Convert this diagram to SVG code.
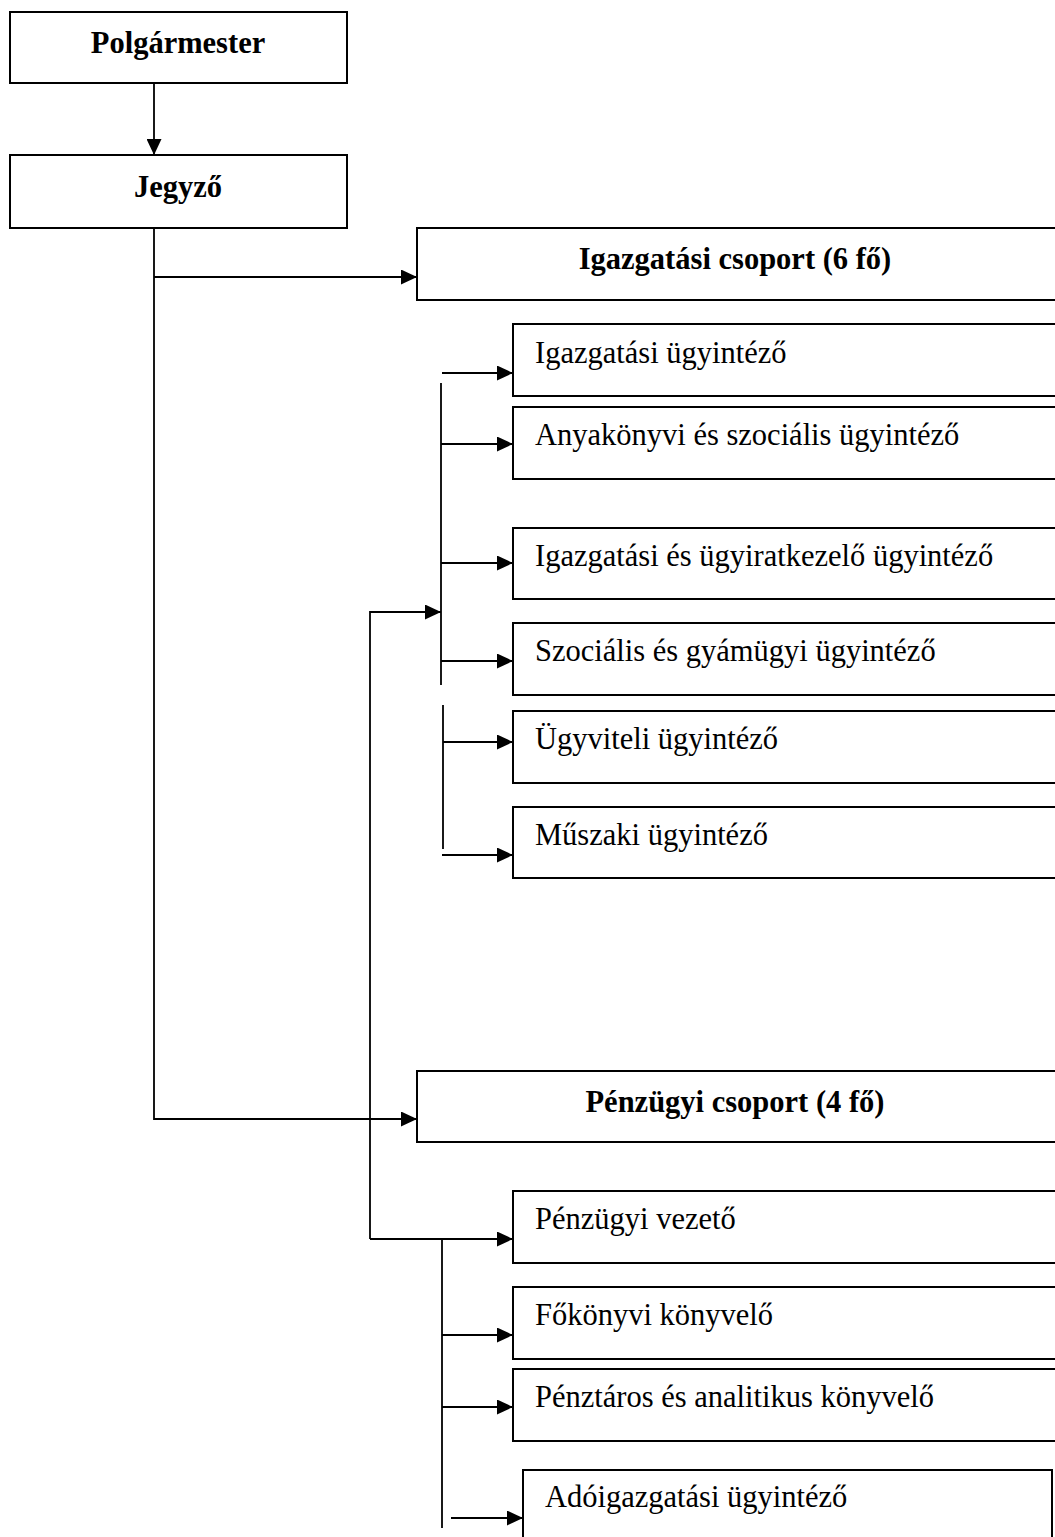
<svg xmlns="http://www.w3.org/2000/svg" width="1055" height="1537" viewBox="0 0 1055 1537">
<style>
.box{fill:#fff;stroke:#000;stroke-width:2}
.ln{fill:none;stroke:#000;stroke-width:1.8}
.b{font-family:"Liberation Serif","Times New Roman",serif;font-weight:bold;font-size:30.5px;fill:#000}
.t{font-family:"Liberation Serif","Times New Roman",serif;font-size:30.5px;fill:#000}
</style>
<defs>
<marker id="ah" viewBox="0 0 16 15" refX="16" refY="7.5" markerWidth="16" markerHeight="15" markerUnits="userSpaceOnUse" orient="auto">
<path d="M0,0 L16,7.5 L0,15 z" fill="#000"/>
</marker>
</defs>
<rect width="1055" height="1537" fill="#fff"/>
<g id="connectors">
<line class="ln" x1="154" y1="83" x2="154" y2="155" marker-end="url(#ah)"/>
<polyline class="ln" points="154,228 154,1119 417,1119" marker-end="url(#ah)"/>
<line class="ln" x1="154" y1="277" x2="417" y2="277" marker-end="url(#ah)"/>
<polyline class="ln" points="370,1239 370,612 441,612" marker-end="url(#ah)"/>
<line class="ln" x1="370" y1="1239" x2="513" y2="1239" marker-end="url(#ah)"/>
<line class="ln" x1="441" y1="383" x2="441" y2="685"/>
<line class="ln" x1="442" y1="373" x2="513" y2="373" marker-end="url(#ah)"/>
<line class="ln" x1="441" y1="444" x2="513" y2="444" marker-end="url(#ah)"/>
<line class="ln" x1="441" y1="563" x2="513" y2="563" marker-end="url(#ah)"/>
<line class="ln" x1="441" y1="661" x2="513" y2="661" marker-end="url(#ah)"/>
<line class="ln" x1="443" y1="705" x2="443" y2="849"/>
<line class="ln" x1="443" y1="742" x2="513" y2="742" marker-end="url(#ah)"/>
<line class="ln" x1="442" y1="855" x2="513" y2="855" marker-end="url(#ah)"/>
<line class="ln" x1="442" y1="1239" x2="442" y2="1528"/>
<line class="ln" x1="442" y1="1335" x2="513" y2="1335" marker-end="url(#ah)"/>
<line class="ln" x1="442" y1="1407" x2="513" y2="1407" marker-end="url(#ah)"/>
<line class="ln" x1="451" y1="1518" x2="523" y2="1518" marker-end="url(#ah)"/>
</g>
<g id="polgarmester">
<rect class="box" x="10" y="12" width="337" height="71"/>
<text class="b" x="178" y="53" text-anchor="middle">Polgármester</text>
</g>
<g id="jegyzo">
<rect class="box" x="10" y="155" width="337" height="73"/>
<text class="b" x="178" y="197" text-anchor="middle">Jegyző</text>
</g>
<g id="igazgatasi-csoport">
<rect class="box" x="417" y="228" width="660" height="72"/>
<text class="b" x="735" y="269" text-anchor="middle">Igazgatási csoport (6 fő)</text>
</g>
<g id="igazgatasi-ugyintezo">
<rect class="box" x="513" y="324" width="560" height="72"/>
<text class="t" x="535" y="363">Igazgatási ügyintéző</text>
</g>
<g id="anyakonyvi">
<rect class="box" x="513" y="407" width="560" height="72"/>
<text class="t" x="535" y="445">Anyakönyvi és szociális ügyintéző</text>
</g>
<g id="ugyiratkezelo">
<rect class="box" x="513" y="528" width="560" height="71"/>
<text class="t" x="535" y="566">Igazgatási és ügyiratkezelő ügyintéző</text>
</g>
<g id="szocialis">
<rect class="box" x="513" y="623" width="560" height="72"/>
<text class="t" x="535" y="661">Szociális és gyámügyi ügyintéző</text>
</g>
<g id="ugyviteli">
<rect class="box" x="513" y="711" width="560" height="72"/>
<text class="t" x="535" y="749">Ügyviteli ügyintéző</text>
</g>
<g id="muszaki">
<rect class="box" x="513" y="807" width="560" height="71"/>
<text class="t" x="535" y="845">Műszaki ügyintéző</text>
</g>
<g id="penzugyi-csoport">
<rect class="box" x="417" y="1071" width="660" height="71"/>
<text class="b" x="735" y="1112" text-anchor="middle">Pénzügyi csoport (4 fő)</text>
</g>
<g id="penzugyi-vezeto">
<rect class="box" x="513" y="1191" width="560" height="72"/>
<text class="t" x="535" y="1229">Pénzügyi vezető</text>
</g>
<g id="fokonyvi">
<rect class="box" x="513" y="1287" width="560" height="72"/>
<text class="t" x="535" y="1325">Főkönyvi könyvelő</text>
</g>
<g id="penztaros">
<rect class="box" x="513" y="1369" width="560" height="72"/>
<text class="t" x="535" y="1407">Pénztáros és analitikus könyvelő</text>
</g>
<g id="adoigazgatasi">
<rect class="box" x="523" y="1470" width="529" height="80"/>
<text class="t" x="545" y="1507">Adóigazgatási ügyintéző</text>
</g>
</svg>
